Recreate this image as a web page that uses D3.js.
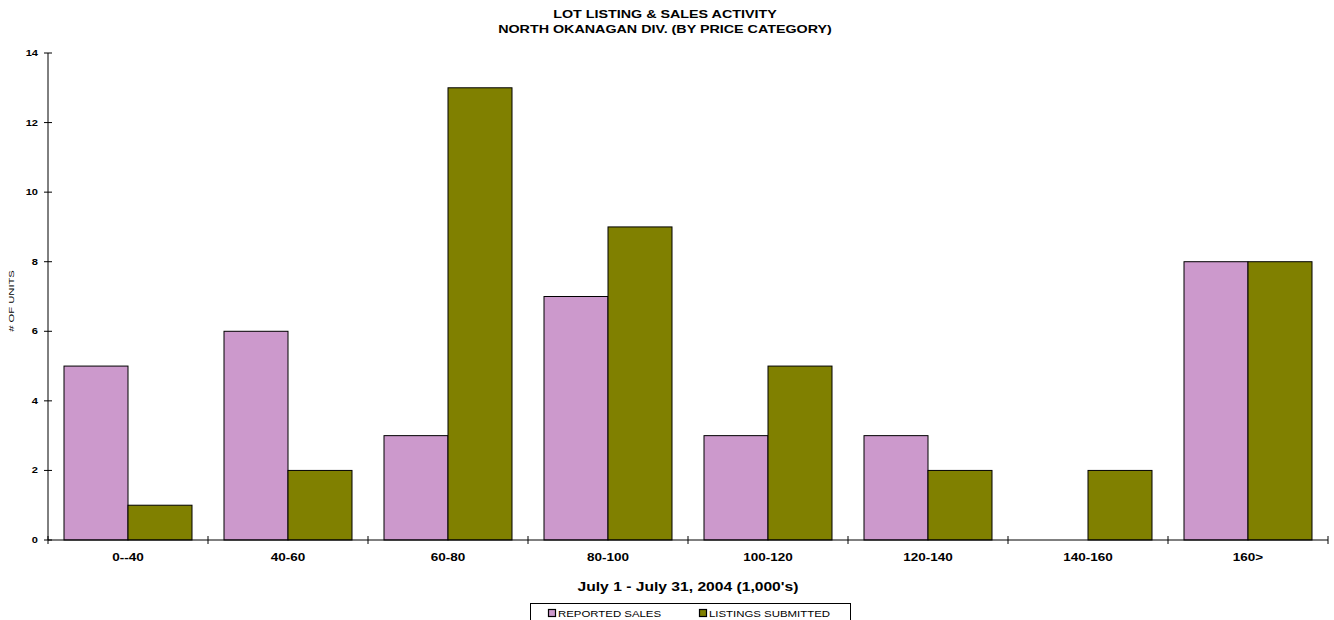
<!DOCTYPE html>
<html>
<head>
<meta charset="utf-8">
<script src="https://cdn.jsdelivr.net/npm/d3@7"></script>
<style>
  body { margin: 0; background: #fff; }
  svg { display: block; font-family: "Liberation Sans", Arial, sans-serif; }
</style>
</head>
<body>
<svg id="chart" width="1334" height="620"></svg>
<script>
// chart data
var categories = ["0--40", "40-60", "60-80", "80-100", "100-120", "120-140", "140-160", "160>"];
var reportedSales = [5, 6, 3, 7, 3, 3, 0, 8];
var listingsSubmitted = [1, 2, 13, 9, 5, 2, 2, 8];
var yTicks = [0, 2, 4, 6, 8, 10, 12, 14];
var seriesNames = ["REPORTED SALES", "LISTINGS SUBMITTED"];
var seriesColors = ["#CC99CC", "#808000"];

var svg = d3.select("#chart");
var plot = { left: 48, right: 1328, top: 53, bottom: 540 };

var x = d3.scaleBand().domain(categories).range([plot.left, plot.right]).paddingInner(0.2).paddingOuter(0.1);
var xBound = d3.scaleLinear().domain([0, categories.length]).range([plot.left, plot.right]);
var y = d3.scaleLinear().domain([0, 14]).range([plot.bottom, plot.top]);
var inner = d3.scaleBand().domain([0, 1]).range([0, x.bandwidth()]);

// the original text is drawn wider than the font, stretch it
function stretch(sel, factor) {
    sel.each(function() {
        var w = this.getComputedTextLength();
        d3.select(this).attr("textLength", w * factor).attr("lengthAdjust", "spacingAndGlyphs");
    });
    return sel;
}

// titles
stretch(svg.append("text").attr("x", 665).attr("y", 18).attr("text-anchor", "middle")
    .attr("font-size", 11).attr("font-weight", "bold").text("LOT LISTING & SALES ACTIVITY"), 1.3);
stretch(svg.append("text").attr("x", 665).attr("y", 33).attr("text-anchor", "middle")
    .attr("font-size", 11).attr("font-weight", "bold").text("NORTH OKANAGAN DIV. (BY PRICE CATEGORY)"), 1.3);

// bars
var series = [reportedSales, listingsSubmitted];
series.forEach(function(values, s) {
    var rows = categories.map(function(c, i) { return { cat: c, value: values[i] }; })
        .filter(function(d) { return d.value > 0; });
    svg.append("g").selectAll("rect")
        .data(rows)
        .enter()
        .append("rect")
        .attr("x", function(d) { return x(d.cat) + inner(s); })
        .attr("y", function(d) { return y(d.value); })
        .attr("width", inner.bandwidth())
        .attr("height", function(d) { return plot.bottom - y(d.value); })
        .attr("fill", seriesColors[s])
        .attr("stroke", "#000")
        .attr("stroke-width", 1);
});

// y axis
var yAxis = svg.append("g");
yAxis.append("line").attr("x1", plot.left).attr("x2", plot.left).attr("y1", plot.top).attr("y2", plot.bottom)
    .attr("stroke", "#000");
yAxis.selectAll("line.tick").data(yTicks).enter().append("line")
    .attr("x1", plot.left - 4).attr("x2", plot.left + 4)
    .attr("y1", function(d) { return y(d); }).attr("y2", function(d) { return y(d); })
    .attr("stroke", "#000");
stretch(yAxis.selectAll("text").data(yTicks).enter().append("text")
    .attr("x", 38).attr("y", function(d) { return y(d) + 3; })
    .attr("text-anchor", "end").attr("font-size", 8.5).attr("font-weight", "bold")
    .text(function(d) { return d; }), 1.3);

stretch(svg.append("text").attr("transform", "translate(14,301) rotate(-90)")
    .attr("text-anchor", "middle").attr("font-size", 8).text("# OF UNITS"), 1.4);

// x axis
var xAxis = svg.append("g");
xAxis.append("line").attr("x1", plot.left).attr("x2", plot.right).attr("y1", plot.bottom).attr("y2", plot.bottom)
    .attr("stroke", "#000");
xAxis.selectAll("line.tick").data(d3.range(categories.length + 1)).enter().append("line")
    .attr("x1", function(d) { return xBound(d); }).attr("x2", function(d) { return xBound(d); })
    .attr("y1", plot.bottom - 4).attr("y2", plot.bottom + 4)
    .attr("stroke", "#000");
stretch(xAxis.selectAll("text").data(categories).enter().append("text")
    .attr("x", function(d) { return x(d) + x.bandwidth() / 2; }).attr("y", 561)
    .attr("text-anchor", "middle").attr("font-size", 10).attr("font-weight", "bold")
    .text(function(d) { return d; }), 1.35);

stretch(svg.append("text").attr("x", 688).attr("y", 591).attr("text-anchor", "middle")
    .attr("font-size", 12.5).attr("font-weight", "bold").text("July 1 - July 31, 2004 (1,000's)"), 1.25);

// legend
var legend = svg.append("g");
legend.append("rect").attr("x", 530.5).attr("y", 603.5).attr("width", 320).attr("height", 30)
    .attr("fill", "#fff").attr("stroke", "#000");
var legendX = [548, 699];
seriesNames.forEach(function(name, i) {
    legend.append("rect").attr("x", legendX[i] + 0.5).attr("y", 609.5).attr("width", 7).attr("height", 7)
        .attr("fill", seriesColors[i]).attr("stroke", "#000").attr("stroke-width", 1.2);
    stretch(legend.append("text").attr("x", legendX[i] + 10).attr("y", 617)
        .attr("font-size", 9.5).text(name), 1.2);
});
</script>
</body>
</html>
